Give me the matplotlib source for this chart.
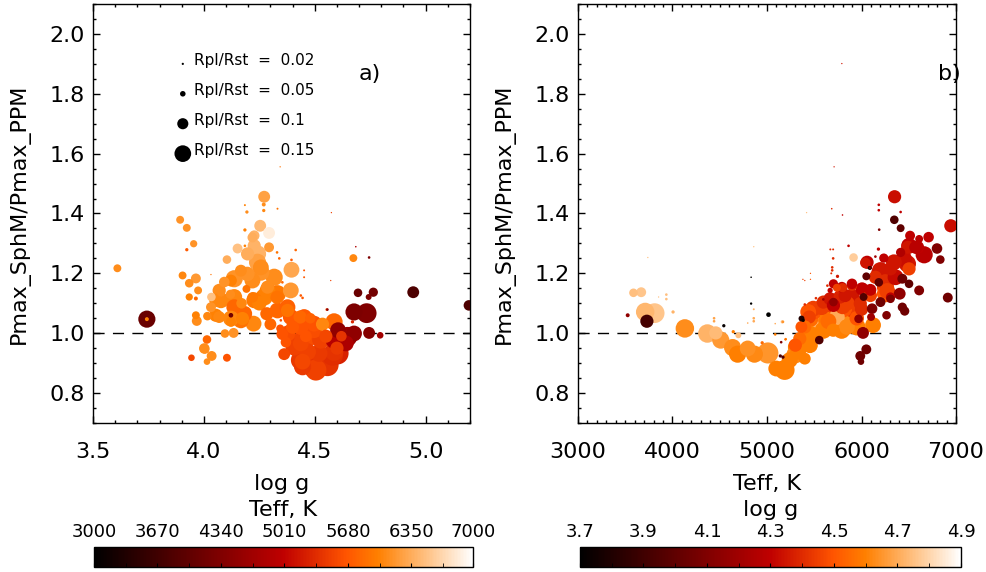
import numpy as np
import matplotlib
matplotlib.use("Agg")
from matplotlib import pyplot as plt
from matplotlib.ticker import MultipleLocator, FixedLocator
from matplotlib.cm import ScalarMappable
from matplotlib.colors import Normalize

# panel a: x = log g, colour = Teff
a_logg = [3.61, 3.743, 3.743, 3.893, 3.923, 3.954, 3.923, 3.904, 3.934, 3.964, 3.974, 3.934,
          3.964, 4.034, 4.032, 3.964, 3.968, 4.016, 4.069, 4.122, 4.122, 4.095, 4.134, 4.014,
          4.005, 4.035, 4.014, 3.944, 4.104, 4.224, 4.174, 4.192, 4.272, 4.27, 4.27, 4.194,
          4.185, 4.254, 4.219, 4.152, 4.104, 4.185, 4.185, 4.032, 4.294, 4.395, 4.392, 4.317,
          4.284, 4.377, 4.434, 4.535, 4.587, 4.497, 4.354, 4.437, 4.362, 4.519, 4.445, 4.505,
          4.580, 4.605, 4.677, 4.640, 4.677, 4.734, 4.745, 4.795, 4.695, 4.764, 4.743, 4.944,
          5.195, 4.674, 4.745, 4.685, 4.575, 4.572, 4.332, 4.414, 4.33, 4.34, 4.395, 4.452,
          4.452, 4.445, 4.554, 4.670, 4.344, 4.344, 4.227, 4.294, 4.167, 4.122, 4.077, 4.196,
          4.257, 4.287, 4.445, 4.587, 4.25, 4.33, 4.22, 4.30, 4.40, 4.46, 4.55, 4.60,
          4.62, 4.48, 4.17, 4.12, 4.37,
          4.227, 4.242, 4.197, 4.242, 4.257, 4.137, 4.219, 4.287, 4.092, 4.069, 4.054, 4.077,
          4.137, 4.272, 4.332, 4.227, 4.137, 4.182, 4.167, 4.332, 4.377, 4.392, 4.452, 4.437,
          4.497, 4.377, 4.437, 4.482, 4.527, 4.407, 4.467, 4.437, 4.497, 4.557, 4.602, 4.587,
          4.647, 4.002, 4.054, 4.122, 4.354, 4.437, 4.347, 4.557]
a_ratio = [1.217, 1.047, 1.047, 1.379, 1.352, 1.299, 1.279, 1.193, 1.167, 1.183, 1.143, 1.121,
           1.116, 1.121, 1.087, 1.060, 1.041, 1.057, 1.054, 1.060, 1.038, 0.999, 1.001, 0.979,
           0.946, 0.924, 0.905, 0.918, 0.918, 1.032, 1.049, 1.148, 1.456, 1.43, 1.41, 1.405,
           1.428, 1.359, 1.32, 1.283, 1.246, 1.345, 1.292, 1.196, 1.335, 1.212, 1.143, 1.187,
           1.065, 1.076, 1.054, 1.030, 1.038, 1.010, 0.997, 0.966, 0.930, 0.933, 0.905, 0.877,
           0.927, 1.010, 0.999, 0.966, 1.071, 1.067, 1.001, 0.993, 1.135, 1.137, 1.121, 1.137,
           1.093, 1.251, 1.253, 1.289, 1.403, 1.176, 1.416, 1.278, 1.27, 1.25, 1.245, 1.21,
           1.187, 1.118, 1.079, 1.038, 1.016, 1.556, 1.326, 1.287, 1.209, 1.176, 1.137, 1.198,
           1.220, 1.143, 0.888, 0.938, 1.10, 1.12, 1.12, 1.03, 1.02, 0.99, 0.99, 0.95,
           0.99, 1.05, 1.10, 1.13, 0.97,
           1.292, 1.265, 1.265, 1.237, 1.204, 1.182, 1.176, 1.154, 1.171, 1.143, 1.110, 1.110,
           1.121, 1.121, 1.132, 1.110, 1.087, 1.065, 1.043, 1.076, 1.087, 1.054, 1.054, 1.021,
           1.032, 0.999, 0.977, 0.988, 0.977, 0.954, 0.938, 0.910, 0.888, 0.894, 0.933, 0.977,
           0.988, 0.949, 1.060, 1.049, 1.170, 1.126, 1.043, 1.079]
a_rp = [0.06, 0.13, 0.03, 0.06, 0.06, 0.055, 0.025, 0.06, 0.065, 0.075, 0.06, 0.055,
        0.03, 0.065, 0.075, 0.06, 0.075, 0.065, 0.09, 0.035, 0.075, 0.065, 0.075, 0.065,
        0.065, 0.075, 0.05, 0.05, 0.06, 0.12, 0.10, 0.06, 0.09, 0.03, 0.025, 0.025,
        0.015, 0.09, 0.075, 0.075, 0.065, 0.025, 0.02, 0.01, 0.09, 0.12, 0.12, 0.13,
        0.10, 0.10, 0.10, 0.10, 0.13, 0.12, 0.09, 0.12, 0.09, 0.13, 0.12, 0.16,
        0.16, 0.12, 0.12, 0.12, 0.13, 0.15, 0.09, 0.05, 0.065, 0.07, 0.045, 0.09,
        0.08, 0.06, 0.02, 0.012, 0.01, 0.01, 0.015, 0.02, 0.02, 0.02, 0.02, 0.015,
        0.015, 0.02, 0.02, 0.025, 0.06, 0.01, 0.08, 0.075, 0.09, 0.09, 0.065, 0.11,
        0.12, 0.12, 0.13, 0.14, 0.11, 0.10, 0.08, 0.09, 0.10, 0.09, 0.10, 0.10,
        0.08, 0.08, 0.08, 0.07, 0.08,
        0.10, 0.13, 0.10, 0.13, 0.13, 0.13, 0.12, 0.10, 0.08, 0.10, 0.10, 0.12,
        0.12, 0.13, 0.13, 0.12, 0.12, 0.12, 0.12, 0.12, 0.12, 0.12, 0.12, 0.12,
        0.12, 0.12, 0.13, 0.13, 0.13, 0.13, 0.13, 0.15, 0.17, 0.17, 0.17, 0.13,
        0.15, 0.08, 0.10, 0.12, 0.02, 0.02, 0.02, 0.02]
a_teff = [6100, 4100, 6000, 6150, 6150, 6150, 5700, 6050, 6100, 6200, 6100, 6000,
          5800, 6500, 6150, 6000, 6100, 6050, 6050, 4200, 6000, 6100, 6150, 5800,
          6100, 6100, 6100, 5550, 5650, 6050, 6000, 5900, 6250, 6100, 6050, 6100,
          6000, 6450, 6350, 6500, 6350, 6000, 6000, 5900, 6850, 6300, 6200, 6100,
          5800, 5900, 5800, 6050, 5800, 5600, 5650, 5550, 5550, 5450, 5550, 5500,
          5350, 4500, 4500, 4800, 4300, 4350, 4400, 4700, 4100, 4200, 4300, 3800,
          3800, 6050, 4300, 4800, 5500, 5500, 5900, 5800, 5900, 5800, 5700, 5700,
          5700, 5700, 5600, 5300, 5650, 5900, 6400, 6200, 6100, 6000, 6100, 6150,
          6100, 6000, 5450, 5400, 6000, 5900, 5950, 5800, 5700, 5650, 5550, 5450,
          5400, 5750, 6050, 6100, 5650,
          6400, 6400, 6350, 6250, 6150, 6150, 6100, 6100, 6150, 6100, 6050, 6050,
          6050, 6000, 5950, 5950, 5800, 5800, 5900, 5800, 5750, 5700, 5700, 5650,
          5650, 5600, 5550, 5600, 5500, 5500, 5500, 5450, 5400, 5400, 5250, 4900,
          4600, 6100, 6000, 6050, 5800, 5700, 5600, 4500]

# panel b: x = Teff, colour = log g
b_teff = [3587, 3669, 3853, 3935, 3935, 4006, 3526, 3729, 3711, 3811, 4131, 4369,
          4458, 4511, 4636, 4689, 4796, 4867, 5009, 5098, 5187, 4832, 4832, 5016,
          4543, 4440, 4440, 4643, 4697, 4860, 4860, 4860, 4796, 5087, 5169, 5087,
          5194, 4949, 5141, 5710, 5419, 5685, 5799, 5792, 6350, 6183, 6183, 6414,
          6347, 6414, 6187, 6945, 6514, 6610, 6710, 6799, 6834, 6492, 6663, 6593,
          6450, 6503, 6179, 6236, 6147, 6041, 6094, 5916, 5863, 5670, 5700, 5700,
          5690, 5690, 5680, 5746, 5380, 5400, 5460, 5460, 5639, 5899, 5799, 5739,
          6051, 6087, 6183, 6307, 6254, 6360, 6432, 6503, 6404, 6610, 6913, 6307,
          6201, 6432, 6457, 6265, 6101, 6272, 6122, 6016, 6051, 5987, 5994, 5969,
          5553, 5383, 5365, 5526, 5739, 5846, 5800, 5910, 5850, 5596, 5489, 5703,
          5774, 5899, 6022, 6094, 5596, 5446, 5364, 5347, 5454, 5329, 5240, 5187,
          5400, 5150, 5169, 5162, 5198, 5400, 5518, 5596, 4860, 3739, 5650, 5700,
          5950, 6000, 5550, 5300,
          6503, 6575, 6059, 6236, 6414, 6343, 6486, 6201, 6307, 6183, 6307, 5899,
          5810, 5668, 5774, 5703, 5578, 5489, 5436, 5454, 5632, 5721, 5846, 5790,
          5952, 5596, 5454, 5400, 5419, 5312, 5294, 5703, 5792, 5899, 5827, 5987,
          6006, 6147, 6254, 6254, 6094, 5668, 6112]
b_ratio = [1.135, 1.137, 1.121, 1.129, 1.114, 1.071, 1.06, 1.04, 1.071, 1.067, 1.016, 0.999,
           1.001, 0.977, 0.952, 0.930, 0.949, 0.930, 0.934, 0.882, 0.877, 1.187, 1.099, 1.062,
           1.025, 1.04, 1.05, 1.005, 0.993, 1.08, 1.05, 1.04, 1.034, 1.032, 1.038, 0.996,
           0.979, 0.968, 0.924, 1.556, 1.403, 1.416, 1.395, 1.901, 1.456, 1.429, 1.411, 1.405,
           1.379, 1.351, 1.346, 1.359, 1.326, 1.315, 1.321, 1.283, 1.246, 1.287, 1.262, 1.287,
           1.249, 1.215, 1.281, 1.251, 1.256, 1.235, 1.218, 1.253, 1.292, 1.28, 1.28, 1.25,
           1.22, 1.21, 1.20, 1.190, 1.18, 1.176, 1.20, 1.18, 1.159, 1.159, 1.152, 1.152,
           1.19, 1.218, 1.198, 1.215, 1.171, 1.187, 1.182, 1.165, 1.132, 1.143, 1.119, 1.115,
           1.104, 1.087, 1.074, 1.06, 1.054, 1.141, 1.027, 1.001, 0.946, 0.924, 0.905, 1.048,
           0.977, 1.043, 1.049, 1.032, 1.054, 1.021, 1.09, 1.08, 1.10, 1.076, 1.071, 1.104,
           1.123, 1.121, 1.121, 1.145, 1.104, 1.054, 1.021, 0.982, 0.96, 0.938, 0.910, 0.882,
           0.915, 0.97, 0.92, 1.038, 0.98, 1.096, 1.117, 1.113, 1.289, 1.253, 1.04, 1.01,
           1.05, 1.08, 1.00, 0.96,
           1.292, 1.287, 1.237, 1.251, 1.27, 1.237, 1.232, 1.209, 1.193, 1.170, 1.121, 1.06,
           1.082, 1.115, 1.121, 1.093, 1.087, 1.082, 1.071, 1.049, 1.043, 1.027, 1.032, 1.01,
           1.021, 1.010, 0.999, 1.021, 0.977, 0.954, 0.927, 1.165, 1.154, 1.165, 1.126, 1.099,
           1.148, 1.187, 1.154, 1.132, 1.126, 1.143, 1.082]
b_rp = [0.065, 0.075, 0.01, 0.02, 0.02, 0.025, 0.03, 0.10, 0.14, 0.15, 0.14, 0.14,
        0.10, 0.13, 0.13, 0.13, 0.12, 0.13, 0.16, 0.12, 0.15, 0.012, 0.018, 0.035,
        0.025, 0.02, 0.02, 0.025, 0.045, 0.015, 0.02, 0.02, 0.012, 0.012, 0.02, 0.02,
        0.015, 0.025, 0.025, 0.01, 0.01, 0.012, 0.012, 0.01, 0.10, 0.02, 0.02, 0.02,
        0.065, 0.06, 0.02, 0.10, 0.075, 0.06, 0.08, 0.08, 0.065, 0.10, 0.13, 0.10,
        0.12, 0.10, 0.025, 0.06, 0.02, 0.08, 0.025, 0.065, 0.02, 0.015, 0.015, 0.02,
        0.02, 0.02, 0.015, 0.025, 0.01, 0.01, 0.01, 0.01, 0.02, 0.08, 0.07, 0.06,
        0.06, 0.03, 0.12, 0.10, 0.12, 0.12, 0.075, 0.065, 0.09, 0.075, 0.075, 0.065,
        0.075, 0.07, 0.07, 0.065, 0.06, 0.12, 0.12, 0.09, 0.075, 0.075, 0.05, 0.065,
        0.065, 0.025, 0.045, 0.13, 0.12, 0.12, 0.12, 0.13, 0.11, 0.13, 0.12, 0.065,
        0.10, 0.12, 0.06, 0.09, 0.10, 0.10, 0.09, 0.10, 0.12, 0.12, 0.12, 0.13,
        0.09, 0.02, 0.025, 0.025, 0.02, 0.02, 0.02, 0.02, 0.01, 0.01, 0.12, 0.10,
        0.11, 0.10, 0.10, 0.10,
        0.12, 0.10, 0.10, 0.07, 0.07, 0.12, 0.13, 0.13, 0.13, 0.065, 0.07, 0.15,
        0.13, 0.10, 0.10, 0.10, 0.12, 0.12, 0.12, 0.13, 0.13, 0.13, 0.15, 0.13,
        0.13, 0.13, 0.12, 0.10, 0.12, 0.13, 0.13, 0.07, 0.08, 0.08, 0.10, 0.10,
        0.10, 0.10, 0.13, 0.13, 0.10, 0.04, 0.08]
b_logg = [4.75, 4.76, 4.75, 4.75, 4.75, 4.72, 4.15, 3.92, 4.73, 4.76, 4.63, 4.72,
          4.74, 4.66, 4.63, 4.60, 4.64, 4.62, 4.65, 4.60, 4.60, 3.70, 3.70, 3.70,
          3.72, 4.68, 4.68, 4.60, 4.75, 4.72, 4.70, 4.70, 4.70, 4.70, 4.65, 4.60,
          4.55, 4.55, 3.95, 4.35, 4.75, 4.40, 4.30, 4.35, 4.33, 4.30, 4.30, 4.30,
          3.95, 4.00, 4.10, 4.33, 4.30, 4.28, 4.30, 4.10, 4.10, 4.35, 4.28, 4.30,
          4.33, 4.45, 4.30, 4.30, 4.20, 4.35, 4.00, 4.78, 4.30, 4.40, 4.40, 4.40,
          4.40, 4.40, 4.40, 4.35, 4.45, 4.45, 4.50, 4.50, 4.40, 4.40, 4.40, 4.45,
          4.00, 3.72, 4.35, 4.35, 4.40, 4.32, 4.05, 4.00, 4.15, 4.10, 4.05, 4.10,
          4.05, 4.05, 4.05, 4.10, 4.20, 4.45, 4.60, 4.15, 4.05, 4.05, 4.05, 4.15,
          3.95, 3.72, 3.80, 4.73, 4.70, 4.62, 4.45, 4.45, 4.45, 4.45, 4.50, 4.15,
          4.35, 4.35, 3.95, 4.30, 4.40, 4.45, 4.50, 4.55, 4.60, 4.60, 4.60, 4.60,
          4.60, 4.10, 3.95, 4.75, 4.60, 4.40, 4.40, 4.20, 4.75, 4.75, 4.55, 4.60,
          4.50, 4.40, 4.60, 4.50,
          4.30, 4.28, 4.30, 4.30, 4.25, 4.35, 4.35, 4.35, 4.40, 4.00, 4.30, 4.60,
          4.50, 4.35, 4.38, 4.30, 4.45, 4.45, 4.50, 4.55, 4.58, 4.60, 4.62, 4.60,
          4.60, 4.60, 4.60, 4.55, 4.60, 4.60, 4.62, 4.30, 4.30, 4.30, 4.35, 4.40,
          4.30, 4.40, 4.45, 4.50, 4.45, 4.30, 4.10]

legend_rp = [0.02, 0.05, 0.1, 0.15]
legend_y = [1.90, 1.80, 1.70, 1.60]

cmap = plt.get_cmap('gist_heat')
teff_ticks = [3000, 3670, 4340, 5010, 5680, 6350, 7000]
logg_ticks = [3.7, 3.9, 4.1, 4.3, 4.5, 4.7, 4.9]


def msize(rp, scale=95):
    return (scale * np.asarray(rp)) ** 2


def style_axes(ax):
    ax.set_ylim(0.7, 2.1)
    ax.yaxis.set_major_locator(MultipleLocator(0.2))
    ax.yaxis.set_minor_locator(MultipleLocator(0.05))
    ax.tick_params(which='both', direction='in', top=True, right=True, labelsize=16)
    ax.tick_params(which='major', length=5, width=1)
    ax.tick_params(which='minor', length=2.5, width=1)
    ax.tick_params(axis='x', pad=14)
    ax.tick_params(axis='y', pad=6)
    for sp in ax.spines.values():
        sp.set_linewidth(1)
    ax.set_ylabel('Pmax_SphM/Pmax_PPM', fontsize=16, labelpad=14)
    ax.axhline(1.0, color='black', lw=1, ls=(0, (8, 6)))


def scatter_sorted(ax, x, y, rp, c, norm):
    order = np.argsort(-np.asarray(rp), kind='stable')
    ax.scatter(np.asarray(x)[order], np.asarray(y)[order], s=msize(rp)[order],
               c=np.asarray(c)[order], cmap=cmap, norm=norm, edgecolors='none', zorder=3)


fig = plt.figure(figsize=(9.87, 5.72), dpi=100)
ax1 = fig.add_axes([0.0942, 0.2605, 0.3820, 0.7325])
ax2 = fig.add_axes([0.5856, 0.2605, 0.3830, 0.7325])

norm_t = Normalize(3000, 7000)
norm_g = Normalize(3.7, 4.9)

# panel a
style_axes(ax1)
ax1.set_xlim(3.5, 5.2)
ax1.xaxis.set_major_locator(MultipleLocator(0.5))
ax1.xaxis.set_minor_locator(MultipleLocator(0.1))
ax1.xaxis.set_major_formatter(plt.FormatStrFormatter('%.1f'))
ax1.set_xlabel('log g', fontsize=16, labelpad=8)
scatter_sorted(ax1, a_logg, a_ratio, a_rp, a_teff, norm_t)
ax1.scatter([3.905] * 4, legend_y, s=msize(legend_rp, 80), color='black',
            edgecolors='none', zorder=4)
for yy, rr in zip(legend_y, legend_rp):
    ax1.text(3.955, yy + 0.012, 'Rpl/Rst  =  %g' % rr, fontsize=11, va='center', ha='left')
ax1.text(4.75, 1.867, 'a)', fontsize=16, ha='center', va='center')

# panel b
style_axes(ax2)
ax2.set_xlim(3000, 7000)
ax2.xaxis.set_major_locator(MultipleLocator(1000))
ax2.xaxis.set_minor_locator(MultipleLocator(100))
ax2.set_xlabel('Teff, K', fontsize=16, labelpad=8)
scatter_sorted(ax2, b_teff, b_ratio, b_rp, b_logg, norm_g)
ax2.text(6930, 1.867, 'b)', fontsize=16, ha='center', va='center')

# colour bars
cax1 = fig.add_axes([0.0952, 0.0087, 0.384, 0.035])
cax2 = fig.add_axes([0.5876, 0.0087, 0.386, 0.035])
for cax, norm, ticks, step, title, fmt in [
        (cax1, norm_t, teff_ticks, 335, 'Teff, K', '%d'),
        (cax2, norm_g, logg_ticks, 0.1, 'log g', '%.1f')]:
    cb = fig.colorbar(ScalarMappable(norm=norm, cmap=cmap), cax=cax, orientation='horizontal')
    cb.outline.set_linewidth(1)
    cb.set_ticks(ticks)
    cb.ax.xaxis.set_major_formatter(plt.FormatStrFormatter(fmt))
    lo, hi = norm.vmin, norm.vmax
    cb.ax.xaxis.set_minor_locator(FixedLocator(np.arange(lo, hi + step / 2, step)))
    cax.tick_params(axis='x', which='both', top=False, bottom=True, labeltop=True,
                    labelbottom=False, direction='in', labelsize=13, pad=4)
    cax.tick_params(axis='x', which='major', length=3)
    cax.tick_params(axis='x', which='minor', length=3)
    cax.set_title(title, fontsize=16, pad=22)

fig.savefig('out.png', dpi=100)
